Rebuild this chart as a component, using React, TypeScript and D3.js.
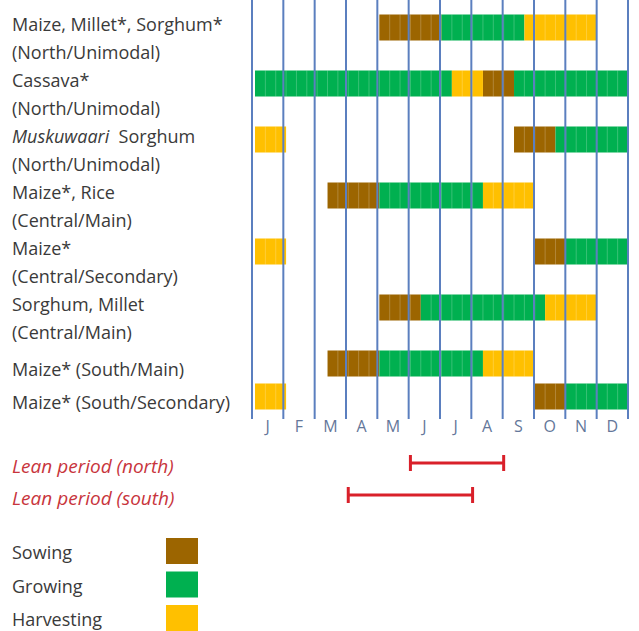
import React, { useEffect, useRef } from "react";
import * as d3 from "d3";

// Months along the bottom
const MONTHS = ["J", "F", "M", "A", "M", "J", "J", "A", "S", "O", "N", "D"];

// Row labels (line 1, line 2); "__" marks the italic part of a line
const ROW_LABELS: string[][] = [
  ["Maize, Millet*, Sorghum*", "(North/Unimodal)"],
  ["Cassava*", "(North/Unimodal)"],
  ["__Muskuwaari__  Sorghum", "(North/Unimodal)"],
  ["Maize*, Rice", "(Central/Main)"],
  ["Maize*", "(Central/Secondary)"],
  ["Sorghum, Millet", "(Central/Main)"],
  ["Maize* (South/Main)"],
  ["Maize* (South/Secondary)"],
];

// Periods per row, in dekads (0 = start of January, 36 = end of December)
const SOWING: [number, number][][] = [
  [[12, 18]], [[22, 25]], [[25, 29]], [[7, 12]],
  [[27, 30]], [[12, 16]], [[7, 12]], [[27, 30]],
];
const GROWING: [number, number][][] = [
  [[18, 26]], [[0, 19], [25, 36]], [[29, 36]], [[12, 22]],
  [[30, 36]], [[16, 28]], [[12, 22]], [[30, 36]],
];
const HARVESTING: [number, number][][] = [
  [[26, 33]], [[19, 22]], [[0, 3]], [[22, 27]],
  [[0, 3]], [[28, 33]], [[22, 27]], [[0, 3]],
];

// Lean periods, in dekads
const LEAN_LABELS = ["Lean period (north)", "Lean period (south)"];
const LEAN_PERIODS: [number, number][] = [[15, 24], [9, 21]];

const LEGEND = ["Sowing", "Growing", "Harvesting"];

const COLORS = {
  sowing: "#9c6500",
  growing: "#00b050",
  harvesting: "#ffc000",
  grid: "#5b7fbf",
  month: "#64779a",
  label: "#3a3a3a",
  lean: "#d9202a",
  leanText: "#c8343c",
};

const W = 639;
const H = 631;
const FONT = "'Open Sans', sans-serif";

const App = () => {
  const svgRef = useRef<SVGSVGElement>(null);

  useEffect(() => {
    if (!svgRef.current) return;
    const svg = d3.select(svgRef.current);
    svg.selectAll("*").remove();

    const xGrid = d3.scaleLinear().domain([0, 12]).range([252, 628]);
    const xBar = d3.scaleLinear().domain([0, 36]).range([255, 628]);

    // row tops: two-line rows take more room than single-line ones
    const rowTop: number[] = [];
    let y = 14.5;
    ROW_LABELS.forEach((lines) => {
      rowTop.push(y);
      y += lines.length === 2 ? 56 : 33;
    });
    const barH = 26;

    // ── Bars ──────────────────────────────────────────────────────────
    const stages: [([number, number][][]), string][] = [
      [SOWING, COLORS.sowing],
      [GROWING, COLORS.growing],
      [HARVESTING, COLORS.harvesting],
    ];
    const bars = svg.append("g");
    stages.forEach(([data, color]) => {
      data.forEach((periods, i) => {
        periods.forEach(([s, e]) => {
          bars.append("rect")
            .attr("x", xBar(s))
            .attr("y", rowTop[i])
            .attr("width", xBar(e) - xBar(s))
            .attr("height", barH)
            .attr("fill", color);
          // faint dekad separators inside the bar
          for (let d = s + 1; d < e; d++) {
            bars.append("line")
              .attr("x1", xBar(d)).attr("x2", xBar(d))
              .attr("y1", rowTop[i]).attr("y2", rowTop[i] + barH)
              .attr("stroke", "#ffffff")
              .attr("stroke-opacity", 0.22)
              .attr("stroke-width", 1);
          }
        });
      });
    });

    // ── Month grid lines ──────────────────────────────────────────────
    d3.range(13).forEach((m) => {
      svg.append("line")
        .attr("x1", xGrid(m)).attr("x2", xGrid(m))
        .attr("y1", 0).attr("y2", 419)
        .attr("stroke", COLORS.grid)
        .attr("stroke-width", 2);
    });

    MONTHS.forEach((m, i) => {
      svg.append("text")
        .attr("x", (xGrid(i) + xGrid(i + 1)) / 2)
        .attr("y", 432)
        .attr("text-anchor", "middle")
        .attr("font-size", "16px")
        .attr("font-family", FONT)
        .attr("fill", COLORS.month)
        .text(m);
    });

    // ── Row labels ────────────────────────────────────────────────────
    ROW_LABELS.forEach((lines, i) => {
      lines.forEach((line, j) => {
        const base = lines.length === 2 ? rowTop[i] + 16 + j * 28 : rowTop[i] + 25;
        const t = svg.append("text")
          .attr("x", 12)
          .attr("y", base)
          .attr("font-size", "18px")
          .attr("font-family", FONT)
          .attr("fill", COLORS.label)
          .attr("xml:space", "preserve");
        line.split("__").forEach((part, k) => {
          if (!part) return;
          t.append("tspan")
            .attr("font-style", k % 2 === 1 ? "italic" : "normal")
            .text(part);
        });
      });
    });

    // ── Lean periods ──────────────────────────────────────────────────
    LEAN_LABELS.forEach((label, i) => {
      const cy = 463 + i * 32;
      svg.append("text")
        .attr("x", 12)
        .attr("y", cy + 10)
        .attr("font-size", "19px")
        .attr("font-style", "italic")
        .attr("font-family", FONT)
        .attr("fill", COLORS.leanText)
        .text(label);
      const [s, e] = LEAN_PERIODS[i];
      const g = svg.append("g").attr("stroke", COLORS.lean).attr("stroke-width", 3);
      g.append("line").attr("x1", xBar(s)).attr("x2", xBar(e)).attr("y1", cy).attr("y2", cy);
      [s, e].forEach((d) => {
        g.append("line").attr("x1", xBar(d)).attr("x2", xBar(d)).attr("y1", cy - 8).attr("y2", cy + 8);
      });
    });

    // ── Legend ────────────────────────────────────────────────────────
    const legendColors = [COLORS.sowing, COLORS.growing, COLORS.harvesting];
    LEGEND.forEach((label, i) => {
      const top = 538 + i * 33.5;
      svg.append("rect")
        .attr("x", 166).attr("y", top)
        .attr("width", 32).attr("height", 26)
        .attr("fill", legendColors[i]);
      svg.append("text")
        .attr("x", 12)
        .attr("y", top + 21)
        .attr("font-size", "18px")
        .attr("font-family", FONT)
        .attr("fill", COLORS.label)
        .text(label);
    });
  }, []);

  return (
    <svg
      ref={svgRef}
      width={W}
      height={H}
      style={{ position: "absolute", left: 0, top: 0, background: "#ffffff" }}
    />
  );
};

export default App;
